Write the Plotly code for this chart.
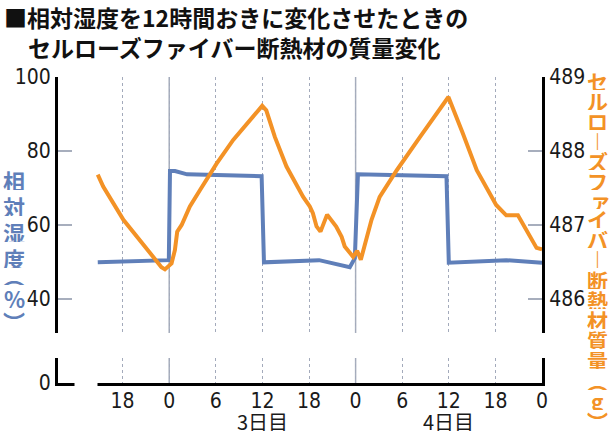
import plotly.graph_objects as go

# ---------------- data ----------------
tick_hours = [-6, 0, 6, 12, 18, 24, 30, 36, 42, 48]
tick_labels = ["18", "0", "6", "12", "18", "0", "6", "12", "18", "0"]
day_labels = ["3日目", "4日目"]
day_centers = [12, 36]

rh_hours = [-9.2, -0.05, 0.1, 0.75, 2.3, 11.9, 12.2, 19.3, 23.25, 23.9, 24.3, 35.7, 36.0, 43.4, 48.0]
rh_values = [49.9, 50.5, 74.6, 74.6, 73.7, 73.2, 49.9, 50.5, 48.6, 51.0, 73.7, 73.2, 49.8, 50.5, 49.8]

mass_hours = [-9.2, -8.5, -5.9, -3.8, -1.85, -1.0, -0.55, 0.3, 0.73, 1.03, 1.6, 2.66, 3.95, 6.1, 8.24, 10.4, 11.97,
              12.5, 13.6, 15.1, 17.25, 18.1, 18.5, 18.97, 19.48, 20.33, 21.5, 22.2, 22.6, 23.68, 24.2, 24.67,
              25.4, 26.05, 27.1, 29.3, 32.3, 35.95, 37.8, 39.6, 42.1, 43.4, 44.9, 46.0, 47.3, 48.0]
mass_values = [487.68, 487.52, 487.07, 486.80, 486.53, 486.43, 486.40, 486.48, 486.66, 486.91, 487.00, 487.25, 487.47,
               487.83, 488.15, 488.42, 488.61,
               488.55, 488.19, 487.79, 487.38, 487.25, 487.16, 486.98, 486.91, 487.14, 486.98, 486.84, 486.71,
               486.57, 486.65, 486.53,
               486.80, 487.07, 487.38, 487.74, 488.19, 488.73, 488.24, 487.74, 487.27, 487.13, 487.13, 486.93,
               486.69, 486.67]

left_ticks = [40, 60, 80, 100]
right_ticks = [486, 487, 488, 489]

title_line1 = "■相対湿度を12時間おきに変化させたときの"
title_line2 = "セルローズファイバー断熱材の質量変化"
left_title_chars = ["相", "対", "湿", "度", "︵", "%", "︶"]
right_title_chars = ["セ", "ル", "ロ", "︱", "ズ", "フ", "ァ", "イ", "バ", "︱", "断", "熱", "材", "質", "量", "︵", "g", "︶"]

# ---------------- style ----------------
W, H = 611, 435
L, R, T, B = 58, 69, 77, 52
PW, PH = W - L - R, H - T - B
BLUE = "#5f7fb9"
ORANGE = "#f39226"
GRID = "#a3aabb"
NUM_FONT = "Liberation Sans Narrow, Arial Narrow, DejaVu Sans Condensed, sans-serif"
JP_FONT = "Noto Sans CJK JP, sans-serif"


def px_x(px):
    return (px - L) / PW


def px_y(py):
    return (H - B - py) / PH


fig = go.Figure()
fig.add_trace(go.Scatter(x=rh_hours, y=rh_values, mode="lines", xaxis="x", yaxis="y",
                         line=dict(color=BLUE, width=4), hoverinfo="skip", showlegend=False))
fig.add_trace(go.Scatter(x=mass_hours, y=mass_values, mode="lines", xaxis="x", yaxis="y2",
                         line=dict(color=ORANGE, width=4), hoverinfo="skip", showlegend=False))
fig.add_trace(go.Scatter(x=[None], y=[None], xaxis="x2", yaxis="y3", showlegend=False, hoverinfo="skip"))
fig.add_trace(go.Scatter(x=[None], y=[None], xaxis="x2", yaxis="y4", showlegend=False, hoverinfo="skip"))

x_common = dict(range=[-14.32, 48], tickvals=tick_hours, showgrid=True, griddash="dot",
                gridcolor=GRID, gridwidth=1, zeroline=False, ticks="", fixedrange=True)
upper_bottom = 50 / PH
lower_top = 25 / PH
y_common = dict(showline=True, linecolor="black", linewidth=3, ticks="inside", ticklen=14,
                tickwidth=2, tickcolor="#a7aebd", showgrid=False, zeroline=False,
                tickfont=dict(family=NUM_FONT, size=21, color="#1a1a1a"))

fig.update_layout(
    width=W, height=H, autosize=False,
    margin=dict(l=L, r=R, t=T, b=B),
    paper_bgcolor="white", plot_bgcolor="white",
    xaxis=dict(domain=[0, 1], anchor="y", showticklabels=False, showline=False, **x_common),
    xaxis2=dict(domain=[0, 1], anchor="y3", showticklabels=True, ticktext=tick_labels,
                showline=True, linecolor="black", linewidth=3, ticklabelstandoff=-3,
                tickfont=dict(family=NUM_FONT, size=21, color="#1a1a1a"), **x_common),
    yaxis=dict(domain=[upper_bottom, 1], anchor="x", side="left", range=[30.81, 100],
               tickvals=left_ticks, **y_common),
    yaxis2=dict(overlaying="y", anchor="x", side="right", range=[485.54, 489],
                tickvals=right_ticks, **y_common),
    yaxis3=dict(domain=[0, lower_top], anchor="x2", side="left", range=[0, 6.76], tickvals=[0],
                showline=True, linecolor="black", linewidth=3, ticks="", showgrid=False, zeroline=False,
                tickfont=dict(family=NUM_FONT, size=21, color="#1a1a1a")),
    yaxis4=dict(overlaying="y3", anchor="x2", side="right", range=[0, 6.76], showticklabels=False,
                showline=True, linecolor="black", linewidth=3, ticks="", showgrid=False, zeroline=False),
)

shapes = []
for h in (0, 24):
    shapes.append(dict(type="line", xref="x", yref="y domain", x0=h, x1=h, y0=0, y1=1,
                       line=dict(color="#a7aebd", width=1.5), layer="below"))
    shapes.append(dict(type="line", xref="x2", yref="y3 domain", x0=h, x1=h, y0=0, y1=1,
                       line=dict(color="#a7aebd", width=1.5), layer="below"))
# gap in the bottom axis line next to the broken y axis
shapes.append(dict(type="rect", xref="paper", yref="paper", x0=px_x(74.5), x1=px_x(97.5),
                   y0=px_y(390), y1=px_y(377), fillcolor="white", line=dict(width=0), layer="above"))
fig.update_layout(shapes=shapes)

ann = []
ann.append(dict(text="<b>" + title_line1 + "</b>", xref="paper", yref="paper", x=px_x(2), y=px_y(17),
                xanchor="left", yanchor="middle", showarrow=False, height=28,
                font=dict(family=JP_FONT, size=23, color="#111")))
ann.append(dict(text="<b>" + title_line2 + "</b>", xref="paper", yref="paper", x=px_x(26), y=px_y(47),
                xanchor="left", yanchor="middle", showarrow=False, height=28,
                font=dict(family=JP_FONT, size=23, color="#111")))
for lbl, c in zip(day_labels, day_centers):
    ann.append(dict(text=lbl, xref="x2", yref="paper", x=c, y=px_y(421), xanchor="center",
                    yanchor="middle", showarrow=False, height=20,
                    font=dict(family=JP_FONT, size=20, color="#1a1a1a")))

left_pos = [180, 206, 232, 258, 275, 298, 321]
for ch, py in zip(left_title_chars, left_pos):
    ann.append(dict(text="<b>" + ch + "</b>", xref="paper", yref="paper", x=px_x(14), y=px_y(py),
                    xanchor="center", yanchor="middle", showarrow=False, height=20,
                    font=dict(family=JP_FONT, size=22, color=BLUE)))

right_pos = [81, 101, 121, 141, 161, 181, 200, 219, 239, 259, 280, 300, 320, 340, 360, 381, 401, 421]
for ch, py in zip(right_title_chars, right_pos):
    dx = 3 if ch == "ァ" else 0
    ann.append(dict(text="<b>" + ch + "</b>", xref="paper", yref="paper", x=px_x(597 + dx), y=px_y(py),
                    xanchor="center", yanchor="middle", showarrow=False, height=18,
                    font=dict(family=JP_FONT, size=21, color=ORANGE)))
fig.update_layout(annotations=ann)

fig.write_html("out.html", config={"displayModeBar": False},
               post_script="document.body.style.margin='0';document.body.style.padding='0';")
